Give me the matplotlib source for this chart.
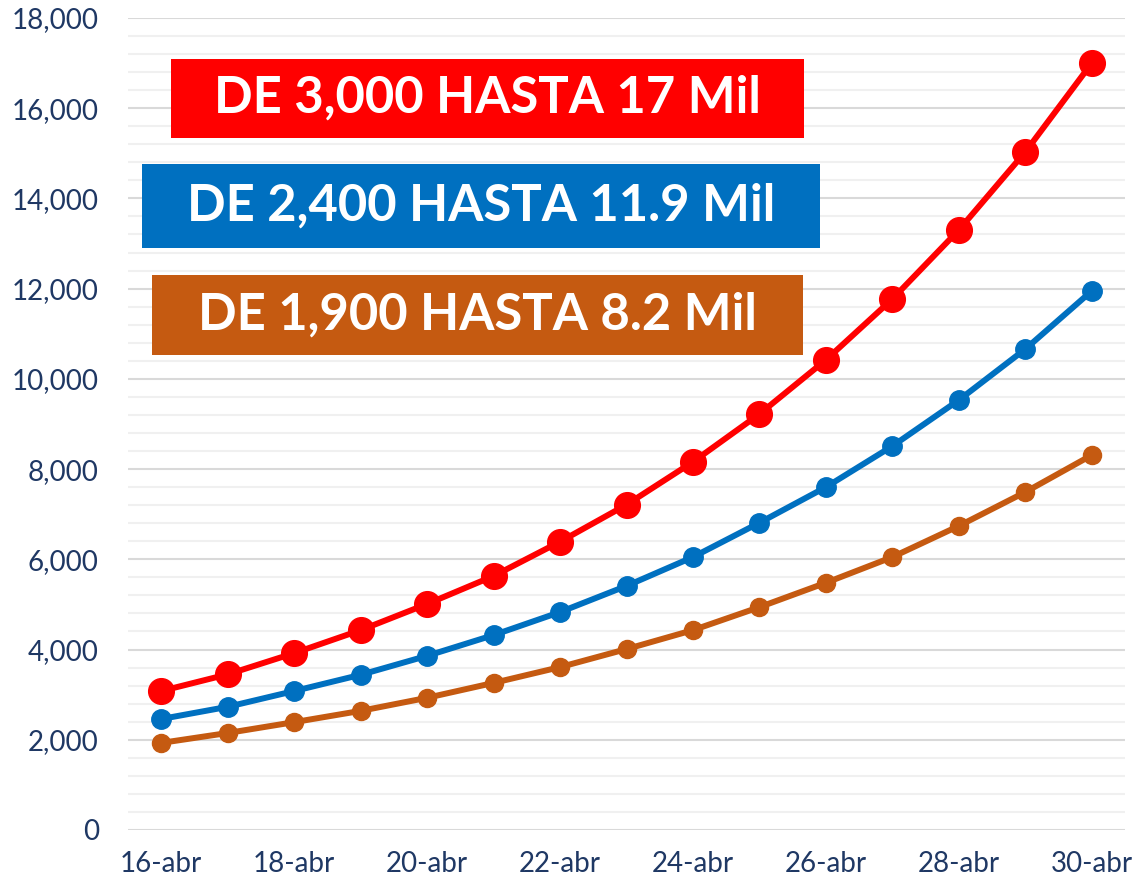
import matplotlib
matplotlib.use("Agg")
import matplotlib.pyplot as plt
from matplotlib.patches import Rectangle
from matplotlib.ticker import MultipleLocator, FuncFormatter

# datos
dias = ['16-abr', '17-abr', '18-abr', '19-abr', '20-abr', '21-abr', '22-abr', '23-abr',
        '24-abr', '25-abr', '26-abr', '27-abr', '28-abr', '29-abr', '30-abr']
rojo = [3080, 3450, 3920, 4430, 5010, 5630, 6390, 7210, 8160, 9220, 10420, 11770, 13300, 15030, 17000]
azul = [2460, 2730, 3080, 3440, 3860, 4320, 4830, 5410, 6050, 6810, 7600, 8510, 9530, 10660, 11950]
naranja = [1930, 2150, 2390, 2640, 2930, 3260, 3610, 4010, 4430, 4940, 5480, 6050, 6740, 7490, 8310]

etiquetas = ['DE 3,000 HASTA 17 Mil', 'DE 2,400 HASTA 11.9 Mil', 'DE 1,900 HASTA 8.2 Mil']
c_rojo = '#FF0000'
c_azul = '#0070C0'
c_naranja = '#C55A11'
c_texto = '#1F3864'

plt.rcParams['font.family'] = ['Lato', 'DejaVu Sans']

fig = plt.figure(figsize=(11.38, 8.89), dpi=100)
ax = fig.add_axes([0.1125, 0.0664, 0.8761, 0.9134])

x = list(range(len(dias)))
ax.plot(x, naranja, '-o', color=c_naranja, lw=4.3, ms=13, zorder=3)
ax.plot(x, azul, '-o', color=c_azul, lw=4.3, ms=14, zorder=4)
ax.plot(x, rojo, '-o', color=c_rojo, lw=4.3, ms=18.5, zorder=5)

ax.set_xlim(-0.5, len(dias) - 0.5)
ax.set_ylim(0, 18000)
ax.yaxis.set_major_locator(MultipleLocator(2000))
ax.yaxis.set_minor_locator(MultipleLocator(400))
ax.yaxis.set_major_formatter(FuncFormatter(lambda v, p: f'{int(v):,}'))
ax.grid(axis='y', which='major', color='#D9D9D9', lw=1.5, zorder=0)
ax.grid(axis='y', which='minor', color='#F0F0F0', lw=1.5, zorder=0)
ax.set_xticks(x[::2])
ax.set_xticklabels(dias[::2])
for s in ax.spines.values():
    s.set_visible(False)
ax.tick_params(axis='both', which='both', length=0, labelsize=20, colors=c_texto)
ax.tick_params(axis='y', pad=21)
ax.tick_params(axis='x', pad=15)

# cuadros de texto
cajas = [(0.1503, 0.8448, 0.5562, 0.0888, c_rojo),
         (0.1248, 0.7210, 0.5958, 0.0945, c_azul),
         (0.1336, 0.6007, 0.5720, 0.0900, c_naranja)]
for (x0, y0, w, h, c), t in zip(cajas, etiquetas):
    fig.patches.append(Rectangle((x0, y0), w, h, transform=fig.transFigure,
                                 facecolor=c, edgecolor='none', zorder=6))
    fig.text(x0 + w / 2, y0 + h / 2, t, color='white', fontsize=36.5, fontweight='bold',
             ha='center', va='center', zorder=7)

fig.savefig('out.png', dpi=100)
